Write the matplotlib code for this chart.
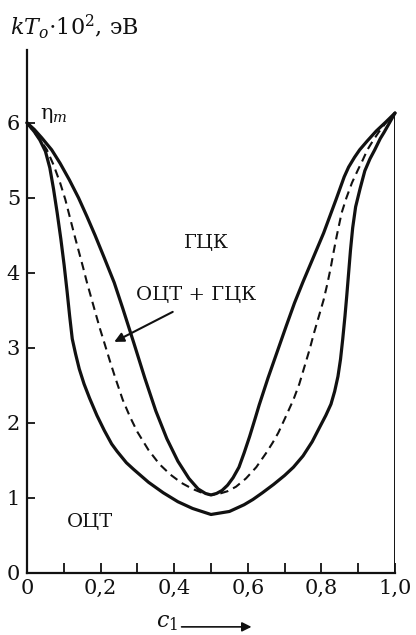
import matplotlib
matplotlib.use("Agg")
import matplotlib.pyplot as plt

plt.rcParams["font.family"] = ["DejaVu Serif"]
plt.rcParams["mathtext.fontset"] = "dejavuserif"

# upper solid curve (boundary of the FCC region)
fcc_c = [0, 0.02, 0.04, 0.067, 0.09, 0.115, 0.14, 0.163, 0.185, 0.21, 0.237,
         0.26, 0.29, 0.32, 0.35, 0.38, 0.41, 0.44, 0.465, 0.485, 0.5,
         0.515, 0.53, 0.545, 0.56, 0.576, 0.59, 0.605, 0.62, 0.631, 0.655,
         0.68, 0.705, 0.727, 0.75, 0.775, 0.806, 0.84, 0.862, 0.874, 0.89,
         0.904, 0.925, 0.949, 0.975, 1.0]
fcc_t = [6.0, 5.91, 5.8, 5.64, 5.46, 5.24, 5.0, 4.75, 4.5, 4.2, 3.87,
         3.53, 3.07, 2.6, 2.16, 1.79, 1.49, 1.26, 1.12, 1.06, 1.04,
         1.06, 1.1, 1.17, 1.27, 1.41, 1.6, 1.82, 2.06, 2.24, 2.6,
         2.95, 3.3, 3.6, 3.88, 4.17, 4.53, 4.98, 5.28, 5.41, 5.54,
         5.64, 5.76, 5.89, 6.01, 6.13]

# lower solid curve (boundary of the BCT region)
bct_c = [0, 0.02, 0.035, 0.05, 0.062, 0.072, 0.082, 0.092, 0.101, 0.109,
         0.116, 0.123, 0.132, 0.142, 0.155, 0.17, 0.19, 0.21, 0.23, 0.245,
         0.27, 0.29, 0.33, 0.37, 0.41, 0.45, 0.5, 0.55, 0.59, 0.614, 0.64,
         0.67, 0.7, 0.724, 0.75, 0.775, 0.795, 0.812, 0.826, 0.836, 0.845,
         0.852, 0.858, 0.864, 0.869, 0.874, 0.879, 0.885, 0.893, 0.905,
         0.918, 0.932, 0.945, 0.96, 0.97, 0.985, 1.0]
bct_t = [6.0, 5.88, 5.77, 5.62, 5.4, 5.12, 4.8, 4.45, 4.1, 3.75,
         3.42, 3.12, 2.92, 2.72, 2.52, 2.33, 2.1, 1.9, 1.72, 1.62,
         1.47, 1.38, 1.21, 1.07, 0.95, 0.86, 0.78, 0.82, 0.91, 0.98, 1.07,
         1.18, 1.3, 1.41, 1.56, 1.75, 1.94, 2.1, 2.25, 2.42, 2.62,
         2.85, 3.12, 3.42, 3.7, 4.0, 4.3, 4.6, 4.88, 5.12,
         5.36, 5.52, 5.64, 5.79, 5.87, 6.0, 6.13]

# dashed curve eta_m
eta_c = [0, 0.02, 0.038, 0.054, 0.072, 0.09, 0.104, 0.116, 0.128, 0.14, 0.152,
         0.163, 0.175, 0.187, 0.198, 0.21, 0.225, 0.24, 0.26, 0.28, 0.3, 0.33,
         0.36, 0.39, 0.42, 0.45, 0.475, 0.5, 0.525, 0.545, 0.568, 0.595,
         0.623, 0.65, 0.668, 0.683, 0.7, 0.724, 0.74, 0.754, 0.768, 0.78,
         0.793, 0.806, 0.816, 0.825, 0.834, 0.842, 0.855, 0.868, 0.883, 0.9,
         0.912, 0.925, 0.94, 0.955, 0.975, 1.0]
eta_t = [6.0, 5.87, 5.76, 5.64, 5.44, 5.2, 4.98, 4.75, 4.52, 4.3, 4.08,
         3.87, 3.66, 3.45, 3.26, 3.07, 2.83, 2.6, 2.31, 2.08, 1.88, 1.64,
         1.45, 1.31, 1.2, 1.12, 1.07, 1.04, 1.06, 1.09, 1.15, 1.26,
         1.41, 1.6, 1.74, 1.87, 2.05, 2.31, 2.52, 2.75, 2.98, 3.2,
         3.42, 3.64, 3.85, 4.06, 4.3, 4.5, 4.8, 5.0, 5.2, 5.38,
         5.5, 5.64, 5.76, 5.87, 6.0, 6.13]

x_ticks = [i / 10 for i in range(11)]
x_labels = ["0", "", "0,2", "", "0,4", "", "0,6", "", "0,8", "", "1,0"]
y_ticks = [0, 1, 2, 3, 4, 5, 6]

ink = "#111111"

fig = plt.figure(figsize=(4.16, 6.35), dpi=100)
ax = fig.add_axes([27 / 416, 1 - 573 / 635, 368 / 416, 523 / 635])

for cs, ts in [(fcc_c, fcc_t), (bct_c, bct_t)]:
    ax.plot(cs, ts, color=ink, lw=2.3, clip_on=False,
            solid_joinstyle="round", solid_capstyle="round")
ax.plot(eta_c, eta_t, color=ink, lw=1.5, ls=(0, (4, 2.6)), clip_on=False)
ax.vlines(1.0, 0, fcc_t[-1], color=ink, lw=1.4)

ax.set_xlim(0, 1.0)
ax.set_ylim(0, 6.97)
for s in ["top", "right"]:
    ax.spines[s].set_visible(False)
for s in ["left", "bottom"]:
    ax.spines[s].set_linewidth(1.6)
    ax.spines[s].set_color(ink)

ax.set_xticks(x_ticks)
ax.set_xticklabels(x_labels)
ax.set_yticks(y_ticks)
ax.tick_params(axis="both", direction="in", width=1.3, colors=ink,
               labelsize=15, labelcolor=ink)
ax.tick_params(axis="x", pad=4, length=7)
ax.tick_params(axis="y", pad=5, length=6)

ax.text(0.488, 4.4, "ГЦК", fontsize=14, ha="center", va="center", color=ink)
ax.text(0.46, 3.7, "ОЦТ + ГЦК", fontsize=14, ha="center", va="center", color=ink)
ax.text(0.17, 0.68, "ОЦТ", fontsize=14, ha="center", va="center", color=ink)
ax.text(0.035, 6.1, r"$\mathrm{\eta}_m$", fontsize=15, ha="left", va="center", color=ink)
ax.annotate("", xy=(0.237, 3.08), xytext=(0.396, 3.48),
            arrowprops=dict(arrowstyle="-|>", color=ink, lw=1.5,
                            mutation_scale=14, shrinkA=0, shrinkB=0))

fig.text(10 / 416, 1 - 35 / 635, r"$kT_o{\cdot}10^2$, эВ", fontsize=16,
         ha="left", va="baseline", color=ink)

ax.text(0.38, -0.094, r"$c_1$", transform=ax.transAxes, fontsize=16,
        ha="center", va="center", color=ink)
ax.annotate("", xy=(0.61, -0.103), xytext=(0.42, -0.103),
            xycoords="axes fraction", textcoords="axes fraction",
            arrowprops=dict(arrowstyle="-|>", color=ink, lw=1.2,
                            mutation_scale=14, shrinkA=0, shrinkB=0),
            annotation_clip=False)

fig.savefig("out.png", dpi=100)
